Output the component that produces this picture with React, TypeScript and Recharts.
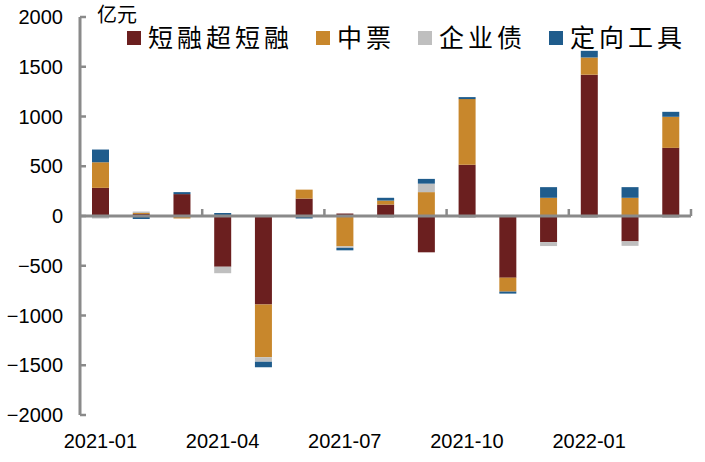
import { BarChart, Bar, XAxis, YAxis, ReferenceLine } from 'recharts'

const months = [
  '2021-01', '2021-02', '2021-03', '2021-04', '2021-05', '2021-06', '2021-07', '2021-08',
  '2021-09', '2021-10', '2021-11', '2021-12', '2022-01', '2022-02', '2022-03',
]
const duanrong = [283, 20, 220, -510, -890, 175, 25, 115, -365, 515, -620, -262, 1420, -255, 685]
const zhongpiao = [257, 10, -25, 0, -530, 90, -305, 40, 240, 660, -140, 183, 173, 183, 312]
const qiyezhai = [-25, 15, 0, -65, -45, 0, -15, -20, 85, -20, 0, -40, -20, -45, -20]
const dingxiang = [128, -30, 20, 30, -55, -25, -25, 28, 48, 20, -20, 107, 67, 107, 50]
const yTicks = [-2000, -1500, -1000, -500, 0, 500, 1000, 1500, 2000]

const series = [
  { key: 'duanrong', name: '短融超短融', color: '#6B1F1F' },
  { key: 'zhongpiao', name: '中票', color: '#C8872C' },
  { key: 'qiyezhai', name: '企业债', color: '#BFBFBF' },
  { key: 'dingxiang', name: '定向工具', color: '#1F5C8C' },
]

const data = months.map((m, i) => ({
  month: m,
  duanrong: duanrong[i],
  zhongpiao: zhongpiao[i],
  qiyezhai: qiyezhai[i],
  dingxiang: dingxiang[i],
}))

const axisGrey = '#8A8A8A'
const font = '"Liberation Sans", Arial, sans-serif'
const cjk = '"Noto Sans CJK SC", sans-serif'

function YTick(props: any) {
  const { x, y, payload } = props
  const v = payload.value
  const label = v < 0 ? '\u2212' + Math.abs(v) : String(v)
  return (
    <g>
      <line x1={x} x2={x + 6} y1={y} y2={y} stroke={axisGrey} strokeWidth={2.5} />
      <text x={x - 17} y={y} dy={7} textAnchor="end" fontSize={20} fontFamily={font} fill="#000">
        {label}
      </text>
    </g>
  )
}

// zero line with small upward ticks every 3 months
function ZeroLine(props: any) {
  const { x1, y1, x2 } = props
  const n = months.length
  const step = (x2 - x1) / n
  const marks = []
  for (let k = 3; k <= n; k += 3) marks.push(x1 + step * k)
  return (
    <g>
      <line x1={x1} x2={x2} y1={y1} y2={y1} stroke={axisGrey} strokeWidth={3} />
      {marks.map((mx, i) => (
        <line key={i} x1={mx} x2={mx} y1={y1} y2={y1 - 7} stroke={axisGrey} strokeWidth={2.5} />
      ))}
    </g>
  )
}

export default function App() {
  return (
    <div style={{ position: 'absolute', left: 0, top: 0, width: 705, height: 462, background: '#fff' }}>
      <div
        style={{
          position: 'absolute', left: 97, top: 3, fontSize: 20, lineHeight: '22px',
          fontFamily: cjk, color: '#000', whiteSpace: 'nowrap',
        }}
      >
        亿元
      </div>
      <div
        style={{
          position: 'absolute', left: 127, top: 22, display: 'flex', alignItems: 'center',
          fontFamily: cjk, fontSize: 25, lineHeight: '28px', color: '#000', zIndex: 2,
          whiteSpace: 'nowrap',
        }}
      >
        {series.map((s) => (
          <div key={s.key} style={{ display: 'flex', alignItems: 'center', marginRight: 23, flexShrink: 0 }}>
            <span style={{ width: 14, height: 14, background: s.color, marginRight: 7, marginTop: 3, flexShrink: 0 }} />
            <span style={{ letterSpacing: 4 }}>{s.name}</span>
          </div>
        ))}
      </div>
      <BarChart
        width={705}
        height={462}
        data={data}
        stackOffset="sign"
        barSize={17}
        margin={{ top: 17, right: 14, bottom: 0, left: 0 }}
      >
        <XAxis
          dataKey="month"
          interval={2}
          axisLine={false}
          tickLine={false}
          tickSize={0}
          tickMargin={19}
          height={47}
          tick={{ fontSize: 20, fontFamily: font, fill: '#000' }}
        />
        <YAxis
          domain={[-2000, 2000]}
          ticks={yTicks}
          width={80}
          tickSize={0}
          tickMargin={0}
          tickLine={false}
          axisLine={{ stroke: axisGrey, strokeWidth: 3 }}
          tick={<YTick />}
          interval={0}
        />
        {series.map((s) => (
          <Bar key={s.key} dataKey={s.key} name={s.name} stackId="a" fill={s.color} isAnimationActive={false} />
        ))}
        <ReferenceLine y={0} shape={<ZeroLine />} />
      </BarChart>
    </div>
  )
}
